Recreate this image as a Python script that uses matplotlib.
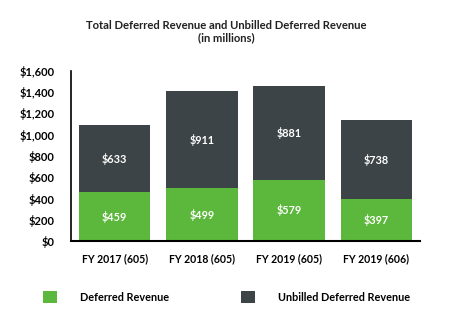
import matplotlib.pyplot as plt
import numpy as np

categories = ["FY 2017 (605)", "FY 2018 (605)", "FY 2019 (605)", "FY 2019 (606)"]
deferred = [459, 499, 579, 397]
unbilled = [633, 911, 881, 738]
yticks = [0, 200, 400, 600, 800, 1000, 1200, 1400, 1600]

GREEN = "#5cb83c"
DARK = "#3d4447"

plt.rcParams["font.family"] = ["Lato", "DejaVu Sans"]

fig = plt.figure(figsize=(4.53, 3.33), dpi=100)
ax = fig.add_axes([0.157, 0.276, 0.77, 0.511])

x = np.arange(len(categories))
w = 0.82
b1 = ax.bar(x, deferred, w, color=GREEN, label="Deferred Revenue")
b2 = ax.bar(x, unbilled, w, bottom=deferred, color=DARK, label="Unbilled Deferred Revenue")

for i in range(len(categories)):
    ax.text(x[i], deferred[i] / 2, f"${deferred[i]}", ha="center", va="center",
            color="white", fontsize=7.8, fontweight="bold")
    ax.text(x[i], deferred[i] + unbilled[i] / 2, f"${unbilled[i]}", ha="center", va="center",
            color="white", fontsize=7.8, fontweight="bold")

ax.set_xlim(-0.5, 3.5)
ax.set_ylim(0, 1600)
ax.set_yticks(yticks)
ax.set_yticklabels([f"${v:,}" for v in yticks], fontsize=8, fontweight="bold")
ax.set_xticks(x)
ax.set_xticklabels(categories, fontsize=7.6, fontweight="bold")
ax.tick_params(axis="y", length=0, pad=12)
ax.tick_params(axis="x", length=0, pad=9)
for s in ["top", "right"]:
    ax.spines[s].set_visible(False)
ax.spines["left"].set_linewidth(1.2)
ax.spines["bottom"].set_linewidth(1.5)

fig.text(0.5, 0.905, "Total Deferred Revenue and Unbilled Deferred Revenue\n(in millions)",
         ha="center", va="center", fontsize=8.1, fontweight="bold", color="#222222",
         linespacing=1.2)

fig.legend(handles=[b1, b2], loc="center", bbox_to_anchor=(0.5, 0.107), ncol=2,
           frameon=False, handlelength=1.35, handleheight=1.3,
           handletextpad=2.1, columnspacing=6.6, prop={"weight": "bold", "size": 7.8})

fig.savefig("out.png", dpi=100)
